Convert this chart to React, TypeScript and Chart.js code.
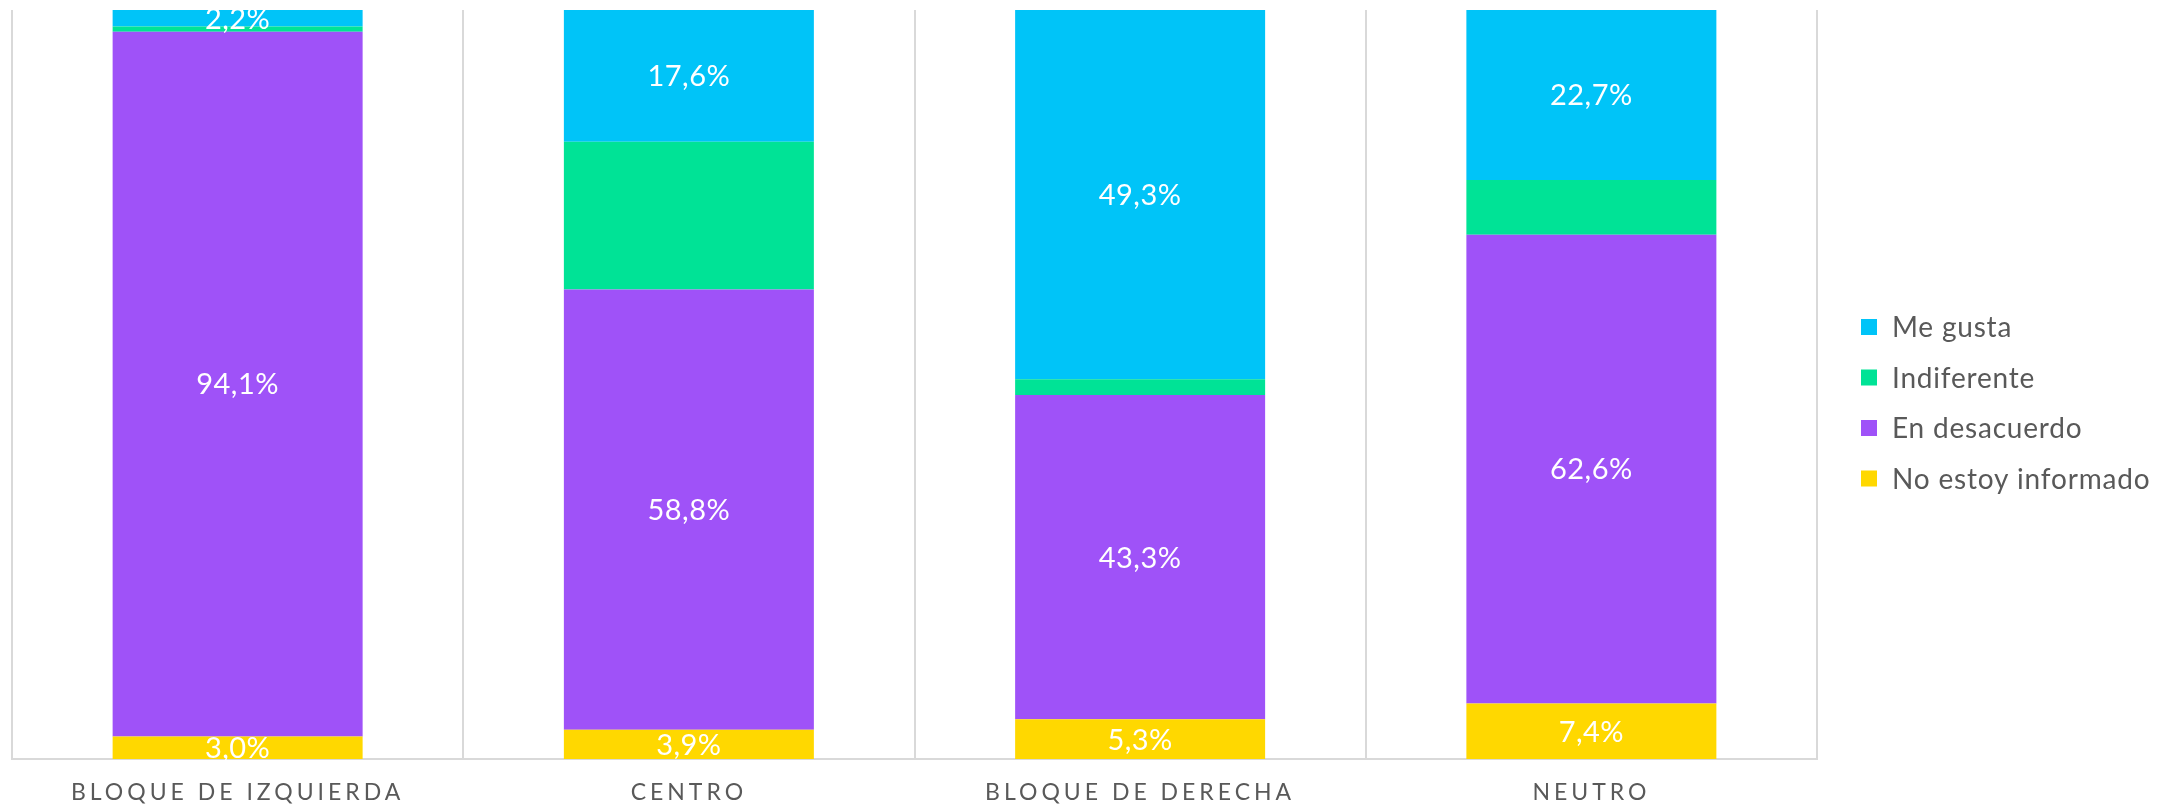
import React, { useEffect, useRef } from "react";
import { Chart, registerables } from "chart.js";

Chart.register(...registerables);

const categories = ["BLOQUE DE IZQUIERDA", "CENTRO", "BLOQUE DE DERECHA", "NEUTRO"];
const noInformado = [3.0, 3.9, 5.3, 7.4];
const enDesacuerdo = [94.1, 58.8, 43.3, 62.6];
const indiferente = [0.7, 19.7, 2.1, 7.3];
const meGusta = [2.2, 17.6, 49.3, 22.7];

const seriesNames = ["No estoy informado", "En desacuerdo", "Indiferente", "Me gusta"];
const seriesColors = ["#FFD800", "#9F52F8", "#00E396", "#00C4F8"];
const showLabels = [true, true, false, true];

const FONT = "Lato, 'Open Sans', sans-serif";
const TEXT_GRAY = "#595959";

const dataLabelPlugin = {
  id: "dataLabels",
  afterDatasetsDraw(chart: any) {
    const ctx = chart.ctx;
    ctx.save();
    ctx.letterSpacing = "0.5px";
    ctx.font = `29px ${FONT}`;
    ctx.fillStyle = "#ffffff";
    ctx.textAlign = "center";
    ctx.textBaseline = "middle";
    chart.data.datasets.forEach((ds: any, i: number) => {
      if (!showLabels[i]) return;
      const meta = chart.getDatasetMeta(i);
      meta.data.forEach((el: any, j: number) => {
        const v = ds.data[j];
        const p = el.getCenterPoint();
        ctx.fillText(v.toFixed(1).replace(".", ",") + "%", p.x, p.y + 1);
      });
    });
    ctx.restore();
  },
};

const spacingPlugin = {
  id: "spacing",
  beforeDraw(chart: any) {
    chart.ctx.letterSpacing = "4px";
  },
  beforeDatasetsDraw(chart: any) {
    chart.ctx.letterSpacing = "0px";
  },
};

const legendPlugin = {
  id: "customLegend",
  afterDraw(chart: any) {
    const ctx = chart.ctx;
    ctx.save();
    ctx.letterSpacing = "0.8px";
    ctx.font = `28px ${FONT}`;
    ctx.textAlign = "left";
    ctx.textBaseline = "middle";
    const order = [3, 2, 1, 0];
    const x0 = 1861;
    const y0 = 327;
    const step = 50.5;
    order.forEach((idx, k) => {
      const y = y0 + k * step;
      ctx.fillStyle = seriesColors[idx];
      ctx.fillRect(x0, y - 8, 16, 16);
      ctx.fillStyle = TEXT_GRAY;
      ctx.fillText(seriesNames[idx], x0 + 31, y + 1);
    });
    ctx.restore();
  },
};

export default function App() {
  const ref = useRef<HTMLCanvasElement>(null);
  useEffect(() => {
    if (!ref.current) return;
    const values = [noInformado, enDesacuerdo, indiferente, meGusta];
    const chart = new Chart(ref.current, {
      type: "bar",
      data: {
        labels: categories,
        datasets: values.map((d, i) => ({
          label: seriesNames[i],
          data: d,
          backgroundColor: seriesColors[i],
          borderWidth: 0,
          barPercentage: 0.554,
          categoryPercentage: 1,
        })),
      },
      options: {
        animation: false,
        responsive: false,
        devicePixelRatio: 1,
        layout: { padding: { left: 12, top: 10, right: 348, bottom: -22 } },
        plugins: { legend: { display: false }, tooltip: { enabled: false } },
        scales: {
          x: {
            stacked: true,
            grid: { display: true, color: "#d9d9d9", lineWidth: 2, drawTicks: false, offset: true },
            border: { display: true, color: "#d9d9d9", width: 2 },
            ticks: {
              color: TEXT_GRAY,
              padding: 22,
              maxRotation: 0,
              autoSkip: false,
              font: { family: FONT, size: 23, lineHeight: 1 },
            },
          },
          y: {
            stacked: true,
            display: false,
            min: 0,
            max: 100,
          },
        },
      },
      plugins: [spacingPlugin, dataLabelPlugin, legendPlugin],
    });
    return () => chart.destroy();
  }, []);
  return (
    <div style={{ position: "fixed", left: 0, top: 0, width: 2165, height: 804, background: "#fff" }}>
      <canvas ref={ref} width={2165} height={804} style={{ display: "block" }} />
    </div>
  );
}
